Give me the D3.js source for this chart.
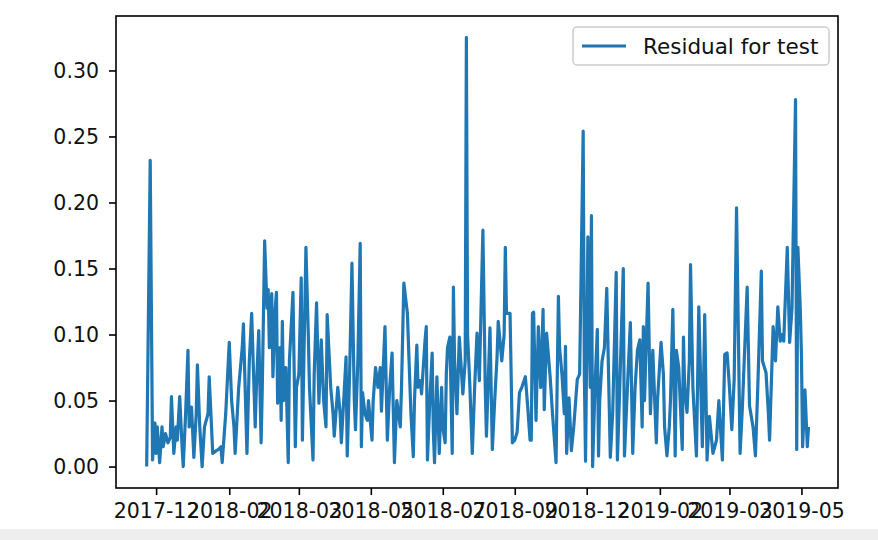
<!DOCTYPE html>
<html>
<head>
<meta charset="utf-8">
<script src="https://cdn.jsdelivr.net/npm/d3@7"></script>
<style>
  body { margin: 0; background: #fff; }
  svg { display: block; font-family: "DejaVu Sans", sans-serif; }
</style>
</head>
<body>
<div id="chart"></div>
<script>
var width = 878,
    height = 540;

// plot box as in the picture
var plotLeft = 116, plotRight = 838, plotTop = 16, plotBottom = 488;

// first observation; each point is stored as days after it
var startDate = "2017-11-23";

var dayOffsets = [
  0,3,5,7,8,9,11,13,14,16, 18,20,21,23,25,26,28,30,31,33, 35,36,38,40,42,43,45,47,49,52,
  53,56,59,61,63,64,67,70,72,74, 75,78,81,82,85,87,89,92,93,95, 97,98,100,102,103,104,106,
  107,109,110,111,113,114,115,116,118,120, 121,124,126,127,129,131,132,135,137,138,
  141,142,144,146,148,150,152,153,156,158, 159,162,164,165,167,169,170,172,174,176,
  177,179,181,182,183,185,187,188,189,191, 192,194,196,198,199,202,204,206,208,210,
  212,215,216,218,
  221,224,226,227,229,230,232,233,236,237, 238,240,242,243,244,246,248,250,251,253,
  254,255,257,259,260,261,263,265,268,270, 271,272,274,276,278,280,282,285,287,288,
  291,293,295,297,298,301,303,304,305,308, 310,312,314,316,318,321,323,325,326,327,
  328,330,332,334,336,337,339,342,344,347, 349,350,352,354,355,356,358,360,362,365,
  367,370,371,372,374,376,377,378,380,382, 383,384,386,388,390,393,395,398,399,401,
  404,405,408,410,412,414,416,418,420,421, 422,425,427,429,432,433,436,
  438,439,441,443,444,446,448,449,451,454, 455,456,458,460,461,463,466,468,471,472,
  473,475,477,480,483,485,488,490,492,494, 496,498,500,503,505,509,511,514,516,518,
  521,522,525,527,528,531,533,535,537,538, 540,543,545,547,550,551,552,554,555,556,
  558,560,561
];

var residuals = [
  0.0,0.232,0.005,0.033,0.01,0.03,0.003,0.03,0.015,0.025, 0.018,0.022,0.053,0.01,0.03,0.02,0.053,0.015,0.0,0.04,
  0.088,0.03,0.045,0.007,0.04,0.077,0.03,0.0,0.03,0.04, 0.068,0.01,0.012,0.013,0.015,0.003,0.04,0.094,0.05,0.03,
  0.01,0.06,0.09,0.108,0.01,0.08,0.116,0.03,0.06,0.103, 0.018,0.06,0.171,0.12,0.134,0.09,0.131,
  0.068,0.12,0.132,0.048,0.09,0.035,0.11,0.05,0.075,0.003, 0.08,0.132,0.015,0.06,0.07,0.143,0.02,0.166,0.1,0.06,
  0.005,0.07,0.124,0.048,0.096,0.05,0.03,0.115,0.06,0.04, 0.023,0.06,0.04,0.018,0.05,0.083,0.008,0.07,0.154,0.05,
  0.028,0.08,0.169,0.015,0.056,0.04,0.035,0.05,0.04,0.02, 0.05,0.075,0.06,0.075,0.042,0.106,0.02,0.06,0.086,0.003,
  0.05,0.03,0.06,0.139,
  0.116,0.04,0.0075,0.05,0.092,0.06,0.065,0.055,0.096,0.106, 0.005,0.05,0.086,0.026,0.003,0.068,0.01,0.06,0.03,0.018,
  0.07,0.09,0.098,0.01,0.136,0.08,0.04,0.098,0.055,0.08, 0.325,0.1,0.06,0.01,0.06,0.101,0.065,0.179,0.06,0.023,
  0.105,0.013,0.05,0.083,0.11,0.08,0.1,0.166,0.116,0.116, 0.018,0.02,0.026,0.056,0.06,0.068,0.045,0.02,0.02,0.116,
  0.117,0.035,0.106,0.06,0.119,0.043,0.101,0.068,0.04,0.003, 0.129,0.09,0.07,0.04,0.091,0.01,0.052,0.012,0.03,0.066,
  0.07,0.254,0.07,0.004,0.174,0.06,0.19,0.0,0.06,0.104, 0.008,0.05,0.08,0.09,0.135,0.007,0.04,0.147,0.005,0.06,
  0.15,0.008,0.07,0.109,0.01,0.06,0.088,0.096,0.03,0.106, 0.05,0.139,0.04,0.088,0.018,0.05,0.094,
  0.07,0.03,0.008,0.03,0.05,0.119,0.008,0.088,0.075,0.013, 0.098,0.06,0.041,0.08,0.153,0.06,0.008,0.121,0.015,0.06,
  0.115,0.005,0.038,0.01,0.02,0.05,0.005,0.085,0.086,0.06, 0.028,0.066,0.196,0.01,0.046,0.136,0.046,0.03,0.008,0.06,
  0.148,0.08,0.071,0.04,0.02,0.106,0.08,0.121,0.095,0.1, 0.095,0.166,0.094,0.12,0.278,0.013,0.166,0.12,0.085,0.015,
  0.058,0.015,0.03
];

var xDomain = ["2017-10-28", "2019-07-02"];
var xTickDates = ["2017-12-01","2018-02-01","2018-04-01","2018-06-01","2018-08-01",
                  "2018-10-01","2018-12-01","2019-02-01","2019-04-01","2019-06-01"];
var xTickLabels = ["2017-12","2018-02","2018-03","2018-05","2018-07",
                   "2018-09","2018-12","2019-02","2019-03","2019-05"];
var yTicks = [0.00, 0.05, 0.10, 0.15, 0.20, 0.25, 0.30];
var seriesName = "Residual for test";

var parse = d3.timeParse("%Y-%m-%d");
var start = parse(startDate);
var data = dayOffsets.map(function(d, i) {
  return { date: d3.timeDay.offset(start, d), value: residuals[i] };
});

var svg = d3.select("#chart").append("svg")
    .attr("width", width)
    .attr("height", height);

svg.append("rect")
    .attr("width", width).attr("height", height)
    .attr("fill", "#fff");

// grey strip at the bottom of the screenshot
svg.append("rect")
    .attr("x", 0).attr("y", 529)
    .attr("width", width).attr("height", height - 529)
    .attr("fill", "#eeeeee");

var x = d3.scaleTime()
    .domain(xDomain.map(parse))
    .range([plotLeft, plotRight]);

// matplotlib style 5% margin around the data
var ext = d3.extent(residuals), pad = (ext[1] - ext[0]) * 0.05;
var y = d3.scaleLinear()
    .domain([ext[0] - pad, ext[1] + pad])
    .range([plotBottom, plotTop]);

var line = d3.line()
    .x(function(d) { return x(d.date); })
    .y(function(d) { return y(d.value); });

svg.append("path")
    .datum(data)
    .attr("d", line)
    .attr("fill", "none")
    .attr("stroke", "#1f77b4")
    .attr("stroke-width", 3.2)
    .attr("stroke-linejoin", "round");

var xAxis = svg.append("g")
    .attr("transform", "translate(0," + plotBottom + ")")
    .call(d3.axisBottom(x)
        .tickValues(xTickDates.map(parse))
        .tickFormat(function(d, i) { return xTickLabels[i]; })
        .tickSize(7)
        .tickPadding(8));

var yAxis = svg.append("g")
    .attr("transform", "translate(" + plotLeft + ",0)")
    .call(d3.axisLeft(y)
        .tickValues(yTicks)
        .tickFormat(d3.format(".2f"))
        .tickSize(7)
        .tickPadding(10));

[xAxis, yAxis].forEach(function(g) {
  g.select(".domain").remove();
  g.selectAll(".tick line").attr("stroke", "#000").attr("stroke-width", 1.6);
  g.selectAll(".tick text")
      .attr("fill", "#111")
      .style("font-size", "20.5px")
      .style("font-family", "'DejaVu Sans', sans-serif");
});

// frame
svg.append("rect")
    .attr("x", plotLeft).attr("y", plotTop)
    .attr("width", plotRight - plotLeft).attr("height", plotBottom - plotTop)
    .attr("fill", "none")
    .attr("stroke", "#000")
    .attr("stroke-width", 1.6);

// legend
var legend = svg.append("g");
legend.append("rect")
    .attr("x", 573).attr("y", 27)
    .attr("width", 256).attr("height", 38)
    .attr("rx", 4)
    .attr("fill", "#fff").attr("fill-opacity", 0.8)
    .attr("stroke", "#cccccc").attr("stroke-width", 1.5);
legend.append("line")
    .attr("x1", 582).attr("x2", 626)
    .attr("y1", 46).attr("y2", 46)
    .attr("stroke", "#1f77b4").attr("stroke-width", 3.2);
legend.append("text")
    .attr("x", 643).attr("y", 46)
    .attr("dy", "0.36em")
    .attr("fill", "#111")
    .style("font-size", "21.5px")
    .text(seriesName);
</script>
</body>
</html>
